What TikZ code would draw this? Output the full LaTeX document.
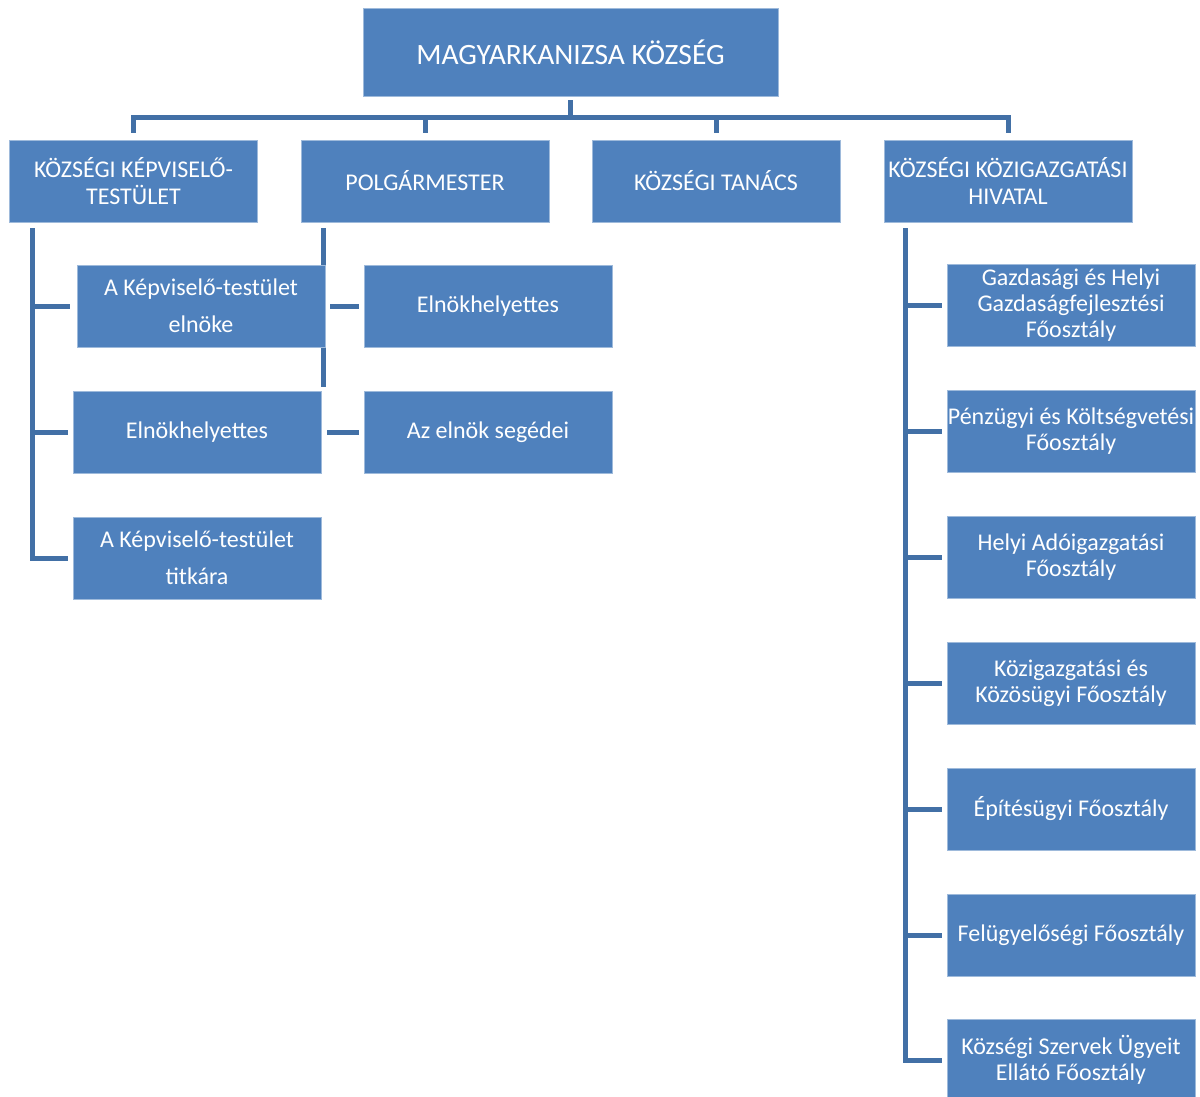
\documentclass[tikz,border=0pt]{standalone}
\usepackage{fontspec}
\setmainfont{Carlito}
\usetikzlibrary{backgrounds}
\definecolor{boxblue}{RGB}{79,129,189}
\definecolor{lineblue}{RGB}{66,112,166}

\begin{document}
\begin{tikzpicture}%
        [x=1pt, y=-1pt,
        unit/.style={draw=boxblue!55!white, line width=0.6pt, fill=boxblue, text=white,
            inner sep=0pt, align=center, minimum width=248pt, minimum height=82pt,
            font=\fontsize{24}{26}\selectfont},
        headunit/.style={unit, font=\fontsize{24}{27}\selectfont},
        wideunit/.style={unit, font=\fontsize{24}{37}\selectfont},
        conn/.style={color=lineblue, line width=5pt}]
    %
    \useasboundingbox (0,0) rectangle (1200,1097);
    %
    %% Drawing the top
    \node[unit, minimum width=415pt, minimum height=88pt, font=\fontsize{29.5}{32}\selectfont]
        (kozseg) at (570.5,52) {MAGYARKANIZSA KÖZSÉG};
    %%
    %% Drawing the first row
    \node[headunit] (testulet) at (133.5,181) {KÖZSÉGI KÉPVISELŐ-\\TESTÜLET};
    \node[headunit] (polgarm) at (425,181) {POLGÁRMESTER};
    \node[headunit] (tanacs) at (716,181) {KÖZSÉGI TANÁCS};
    \node[headunit] (hivatal) at (1008,181) {KÖZSÉGI KÖZIGAZGATÁSI\\HIVATAL};
    %%
    %% Drawing the units of the assembly and the mayor
    \node[wideunit] (elnok) at (201,306) {A Képviselő-testület\\elnöke};
    \node[unit] (alelnok) at (197,432) {Elnökhelyettes};
    \node[wideunit] (titkar) at (197,558) {A Képviselő-testület\\titkára};
    \node[unit] (pmhelyettes) at (488,306) {Elnökhelyettes};
    \node[unit] (segedek) at (488,432) {Az elnök segédei};
    %%
    %% Drawing the departments
    \node[unit] (fo1) at (1071,305.5) {Gazdasági és Helyi\\Gazdaságfejlesztési\\Főosztály};
    \node[unit] (fo2) at (1071,431.5) {Pénzügyi és Költségvetési\\Főosztály};
    \node[unit] (fo3) at (1071,557.5) {Helyi Adóigazgatási\\Főosztály};
    \node[unit] (fo4) at (1071,683.5) {Közigazgatási és\\Közösügyi Főosztály};
    \node[unit] (fo5) at (1071,809) {Építésügyi Főosztály};
    \node[unit] (fo6) at (1071,935) {Felügyelőségi Főosztály};
    \node[unit] (fo7) at (1071,1060) {Községi Szervek Ügyeit\\Ellátó Főosztály};
    %%
    %% Drawing the connectors
    \begin{scope}[on background layer]
    \coordinate (bus) at (570.5,118);
    \draw[conn, shorten <=4pt] (kozseg.south) -- (bus);
    \draw[conn, shorten <=7pt, shorten >=7pt] (testulet.north) -- (testulet.north |- bus)
        -- (hivatal.north |- bus) -- (hivatal.north);
    \draw[conn, shorten >=7pt] (polgarm.north |- bus) -- (polgarm.north);
    \draw[conn, shorten >=7pt] (tanacs.north |- bus) -- (tanacs.north);
    %
    \coordinate (testline) at ([xshift=23pt]testulet.south west);
    \draw[conn, shorten <=6pt, shorten >=5pt] (testline) |- (titkar.west);
    \draw[conn, shorten >=7pt] (testline |- elnok.west) -- (elnok.west);
    \draw[conn, shorten >=5pt] (testline |- alelnok.west) -- (alelnok.west);
    %
    \coordinate (pmline) at ([xshift=22.5pt]polgarm.south west);
    \draw[conn, shorten <=6pt, shorten >=4pt] (pmline) -- (pmline |- alelnok.north);
    \draw[conn, shorten <=5pt, shorten >=5pt] (elnok.east) -- (pmhelyettes.west);
    \draw[conn, shorten <=6pt, shorten >=5pt] (alelnok.east) -- (segedek.west);
    %
    \coordinate (hivline) at ([xshift=22pt]hivatal.south west);
    \draw[conn, shorten <=6pt, shorten >=5pt] (hivline) |- (fo7.west);
    \foreach \f in {fo1,fo2,fo3,fo4,fo5,fo6}
        \draw[conn, shorten >=5pt] (hivline |- \f.west) -- (\f.west);
    \end{scope}
    %%
\end{tikzpicture}
\end{document}
